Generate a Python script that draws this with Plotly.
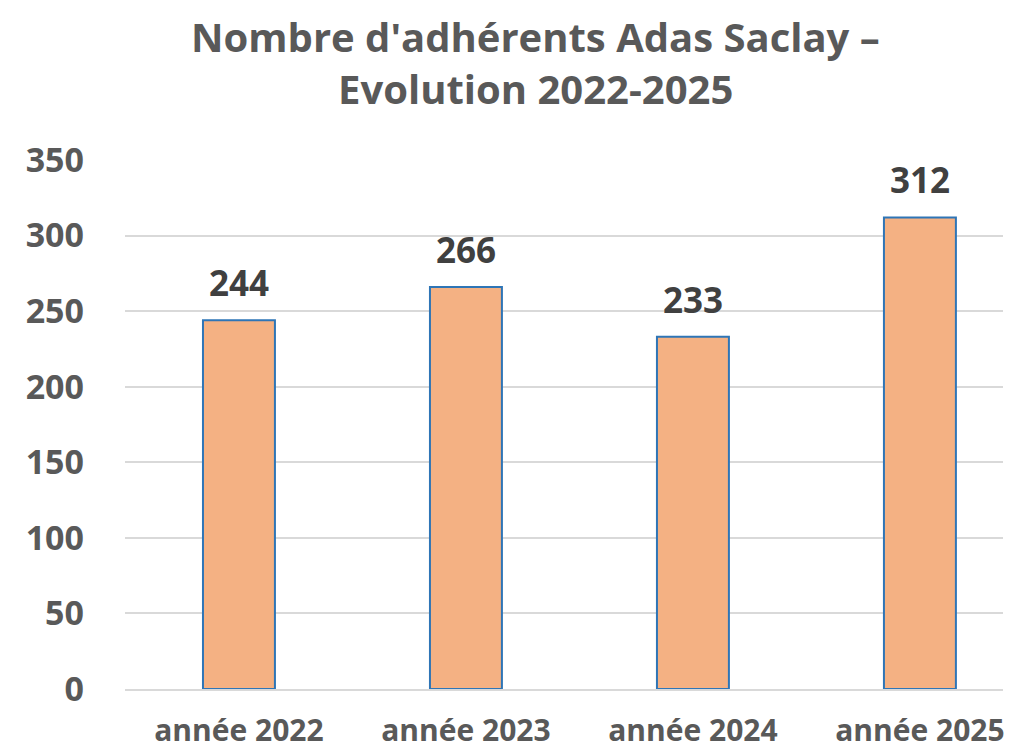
import plotly.graph_objects as go

categories = ["année 2022", "année 2023", "année 2024", "année 2025"]
values = [244, 266, 233, 312]
y_ticks = [0, 50, 100, 150, 200, 250, 300, 350]
title_lines = ["Nombre d'adhérents Adas Saclay –", "Evolution 2022-2025"]

FONT = "Open Sans"
GRAY = "#595959"

fig = go.Figure()
fig.add_trace(go.Bar(
    x=categories, y=values, width=0.317,
    marker=dict(color="#F4B183", line=dict(color="#2E75B6", width=2)),
    hoverinfo="x+y",
))

for c, v in zip(categories, values):
    fig.add_annotation(x=c, y=v, text=f"<b>{v}</b>", showarrow=False,
                       yanchor="bottom", yshift=12,
                       font=dict(family=FONT, size=35, color="#404040"))

# title lines as paper-anchored annotations
for line, py in zip(title_lines, [1.2344, 1.136]):
    fig.add_annotation(x=0.468, y=py, xref="paper", yref="paper",
                       xanchor="center", yanchor="middle", showarrow=False,
                       text=f"<b>{line}</b>", borderpad=0,
                       font=dict(family=FONT, size=40, color=GRAY))

fig.update_layout(
    width=1018, height=750,
    margin=dict(l=117, r=23, t=152, b=69),
    paper_bgcolor="white", plot_bgcolor="white",
    showlegend=False,
    font=dict(family=FONT, color=GRAY),
)
fig.update_yaxes(range=[0, 350], tickvals=y_ticks,
                 ticktext=[f"<b>{t}</b>" for t in y_ticks],
                 tickfont=dict(family=FONT, size=34, color=GRAY),
                 gridcolor="#D9D9D9", gridwidth=2, zeroline=False,
                 showline=False, ticklabelstandoff=40, automargin=False)
fig.update_xaxes(tickvals=categories, ticktext=[f"<b>{c}</b>" for c in categories],
                 range=[-0.502, 3.366],
                 tickfont=dict(family=FONT, size=30, color=GRAY),
                 showline=True, linecolor="#D9D9D9", linewidth=2,
                 ticklabelstandoff=14, automargin=False)

fig.write_html("out.html")
